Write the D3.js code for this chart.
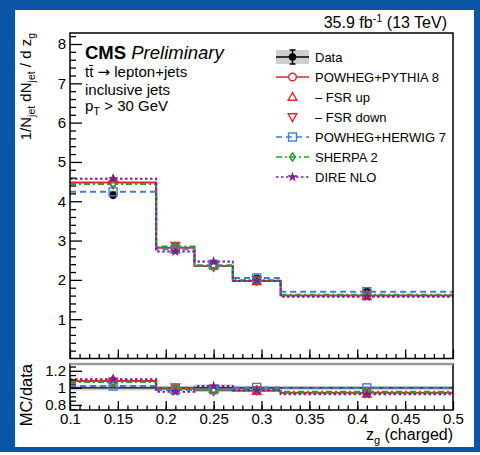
<!DOCTYPE html>
<html>
<head>
<meta charset="utf-8">
<script src="https://cdn.jsdelivr.net/npm/d3@7"></script>
<style>
  html, body { margin: 0; padding: 0; background: #fff; }
  svg text { font-family: "Liberation Sans", Arial, Helvetica, sans-serif; }
</style>
</head>
<body>
<svg id="chart" width="480" height="455"></svg>
<script>
// Bin layout of the z_g (charged) distribution
const binEdges = [0.1, 0.19, 0.23, 0.27, 0.32, 0.5];
const binCenters = [0.145, 0.21, 0.25, 0.295, 0.41];

// Unfolded data and its uncertainties
const dataVals = [4.15, 2.85, 2.42, 2.04, 1.70];
const dataStatErr = [0.06, 0.04, 0.05, 0.04, 0.03];
const dataTotalUnc = [0.13, 0.06, 0.10, 0.05, 0.04];

// Generator predictions
const pythiaVals = [4.48, 2.82, 2.35, 1.97, 1.60];
const fsrUpVals = [4.55, 2.78, 2.39, 1.96, 1.58];
const fsrDownVals = [4.43, 2.87, 2.33, 1.99, 1.63];
const herwigVals = [4.24, 2.78, 2.37, 2.05, 1.70];
const sherpaVals = [4.44, 2.85, 2.36, 1.99, 1.62];
const direVals = [4.57, 2.72, 2.47, 1.98, 1.57];

// Axis tick labels
const yMainTicks = [1, 2, 3, 4, 5, 6, 7, 8];
const yRatioTicks = [0.8, 1, 1.2];
const yRatioLabels = ["0.8", "1", "1.2"];
const xTicks = [0.1, 0.15, 0.2, 0.25, 0.3, 0.35, 0.4, 0.45, 0.5];
const xTickLabels = ["0.1", "0.15", "0.2", "0.25", "0.3", "0.35", "0.4", "0.45", "0.5"];

const RED = "#e3262b", BLUE = "#3a7fd6", GREEN = "#21a225", PURPLE = "#7d1f8e";

const series = [
  { name: "POWHEG+PYTHIA 8", vals: pythiaVals, color: RED, dash: null, marker: "circle", line: true },
  { name: "\u2013 FSR up", vals: fsrUpVals, color: RED, dash: null, marker: "triUp", line: false },
  { name: "\u2013 FSR down", vals: fsrDownVals, color: RED, dash: null, marker: "triDown", line: false },
  { name: "POWHEG+HERWIG 7", vals: herwigVals, color: BLUE, dash: "6,4", marker: "square", line: true },
  { name: "SHERPA 2", vals: sherpaVals, color: GREEN, dash: "6,3,2,3", marker: "diamond", line: true },
  { name: "DIRE NLO", vals: direVals, color: PURPLE, dash: "2.5,2.5", marker: "star", line: true }
];

const svg = d3.select("#chart");

// Outer blue frame
svg.append("rect").attr("x", 0).attr("y", 0).attr("width", 480).attr("height", 452).attr("fill", "#0a55a6");
svg.append("rect").attr("x", 15).attr("y", 10).attr("width", 459).attr("height", 437).attr("fill", "#fff");

// Scales
const x = d3.scaleLinear().domain([0.1, 0.5]).range([70, 453]);
const y = d3.scaleLinear().domain([0, 8.28]).range([358.5, 33]);
const yr = d3.scaleLinear().domain([0.74, 1.28]).range([410, 364]);

// Markers
function drawMarker(g, type, cx, cy, color) {
  const sw = 1.4;
  if (type === "circle") {
    g.append("circle").attr("cx", cx).attr("cy", cy).attr("r", 3.8)
      .attr("fill", "#fff").attr("stroke", color).attr("stroke-width", sw);
  } else if (type === "dot") {
    g.append("circle").attr("cx", cx).attr("cy", cy).attr("r", 3.8).attr("fill", color);
  } else if (type === "square") {
    g.append("rect").attr("x", cx - 4).attr("y", cy - 4).attr("width", 8).attr("height", 8)
      .attr("fill", "none").attr("stroke", color).attr("stroke-width", sw);
  } else if (type === "triUp" || type === "triDown") {
    const s = type === "triUp" ? 1 : -1;
    g.append("path")
      .attr("d", `M${cx},${cy - 4.5 * s} L${cx + 4.3},${cy + 3.2 * s} L${cx - 4.3},${cy + 3.2 * s} Z`)
      .attr("fill", "none").attr("stroke", color).attr("stroke-width", sw);
  } else if (type === "diamond") {
    g.append("path")
      .attr("d", `M${cx},${cy - 4} L${cx + 3},${cy} L${cx},${cy + 4} L${cx - 3},${cy} Z`)
      .attr("fill", "none").attr("stroke", color).attr("stroke-width", sw);
  } else if (type === "star") {
    g.append("path").attr("transform", `translate(${cx},${cy})`)
      .attr("d", d3.symbol(d3.symbolStar, 34)()).attr("fill", color);
  }
}

function stepPath(vals, ys) {
  const pts = [];
  vals.forEach((v, i) => {
    pts.push([x(binEdges[i]), ys(v)]);
    pts.push([x(binEdges[i + 1]), ys(v)]);
  });
  return d3.line()(pts);
}

// ---------- Main panel ----------
const main = svg.append("g");

// Prediction histograms
series.filter(s => s.line).forEach(s => {
  main.append("path").attr("d", stepPath(s.vals, y))
    .attr("fill", "none").attr("stroke", s.color).attr("stroke-width", 2)
    .attr("stroke-dasharray", s.dash);
});

// Data points with error bars
dataVals.forEach((v, i) => {
  const cx = x(binCenters[i]);
  main.append("line").attr("x1", cx).attr("x2", cx)
    .attr("y1", y(v - dataStatErr[i])).attr("y2", y(v + dataStatErr[i]))
    .attr("stroke", "#000").attr("stroke-width", 1.5);
  drawMarker(main, "dot", cx, y(v), "#000");
});

// Prediction markers
series.forEach(s => {
  s.vals.forEach((v, i) => drawMarker(main, s.marker, x(binCenters[i]), y(v), s.color));
});

// Main frame
main.append("rect").attr("x", 70).attr("y", 33).attr("width", 383).attr("height", 325.5)
  .attr("fill", "none").attr("stroke", "#000").attr("stroke-width", 1.5);

// Main y axis
const yAxis = d3.axisLeft(y).tickValues(yMainTicks).tickFormat(d3.format("d"))
  .tickSizeInner(-12).tickSizeOuter(0).tickPadding(4);
const yAxG = main.append("g").attr("transform", "translate(70,0)").call(yAxis);
const yMinor = d3.axisLeft(y).tickValues(d3.range(0.2, 8.25, 0.2).filter(v => Math.abs(v - Math.round(v)) > 1e-6))
  .tickFormat("").tickSizeInner(-6).tickSizeOuter(0);
const yMinG = main.append("g").attr("transform", "translate(70,0)").call(yMinor);

// Main x axis (ticks only)
const xMainAxis = d3.axisBottom(x).tickValues(xTicks).tickFormat("").tickSizeInner(-9).tickSizeOuter(0);
const xMainG = main.append("g").attr("transform", "translate(0,358.5)").call(xMainAxis);
const xMinor = d3.axisBottom(x).tickValues(d3.range(0.11, 0.5, 0.01)).tickFormat("").tickSizeInner(-4.5).tickSizeOuter(0);
const xMinG = main.append("g").attr("transform", "translate(0,358.5)").call(xMinor);

// ---------- Ratio panel ----------
const ratio = svg.append("g");

ratio.selectAll("rect.band").data(dataVals).join("rect")
  .attr("x", (d, i) => x(binEdges[i]))
  .attr("width", (d, i) => x(binEdges[i + 1]) - x(binEdges[i]))
  .attr("y", (d, i) => yr(1 + dataTotalUnc[i] / d))
  .attr("height", (d, i) => yr(1 - dataTotalUnc[i] / d) - yr(1 + dataTotalUnc[i] / d))
  .attr("fill", "#cfcfcf");

ratio.append("line").attr("x1", 70).attr("x2", 453).attr("y1", yr(1)).attr("y2", yr(1))
  .attr("stroke", "#000").attr("stroke-width", 1.2);

series.filter(s => s.line).forEach(s => {
  const r = s.vals.map((v, i) => v / dataVals[i]);
  ratio.append("path").attr("d", stepPath(r, yr))
    .attr("fill", "none").attr("stroke", s.color).attr("stroke-width", 2)
    .attr("stroke-dasharray", s.dash);
});
series.forEach(s => {
  s.vals.forEach((v, i) => drawMarker(ratio, s.marker, x(binCenters[i]), yr(v / dataVals[i]), s.color));
});

ratio.append("rect").attr("x", 70).attr("y", 364).attr("width", 383).attr("height", 46)
  .attr("fill", "none").attr("stroke", "#000").attr("stroke-width", 1.5);
ratio.append("line").attr("x1", 70).attr("x2", 453).attr("y1", 364).attr("y2", 364)
  .attr("stroke", "#9a9a9a").attr("stroke-width", 2.5);

const yrAxis = d3.axisLeft(yr).tickValues(yRatioTicks).tickFormat((d, i) => yRatioLabels[i])
  .tickSizeInner(-12).tickSizeOuter(0).tickPadding(4);
const yrG = ratio.append("g").attr("transform", "translate(70,0)").call(yrAxis);
const yrMinor = d3.axisLeft(yr).tickValues([0.75, 0.85, 0.9, 0.95, 1.05, 1.1, 1.15, 1.25])
  .tickFormat("").tickSizeInner(-6).tickSizeOuter(0);
const yrMinG = ratio.append("g").attr("transform", "translate(70,0)").call(yrMinor);

const xAxis = d3.axisBottom(x).tickValues(xTicks).tickFormat((d, i) => xTickLabels[i])
  .tickSizeInner(-9).tickSizeOuter(0).tickPadding(6);
const xG = ratio.append("g").attr("transform", "translate(0,410)").call(xAxis);
const xrMinor = d3.axisBottom(x).tickValues(d3.range(0.11, 0.5, 0.01)).tickFormat("").tickSizeInner(-4.5).tickSizeOuter(0);
const xrMinG = ratio.append("g").attr("transform", "translate(0,410)").call(xrMinor);

// Axis styling
[yAxG, yMinG, xMainG, xMinG, yrG, yrMinG, xG, xrMinG].forEach(g => {
  g.select(".domain").remove();
  g.selectAll(".tick line").attr("stroke", "#000").attr("stroke-width", 1.3);
  g.selectAll("text").attr("fill", "#000").style("font-size", "15px");
});
xG.selectAll("text").attr("dy", "0.5em");

// ---------- Text ----------
const t = svg.append("g").attr("fill", "#000");

const lumi = t.append("text").attr("x", 447).attr("y", 28).attr("text-anchor", "end").style("font-size", "16px");
lumi.append("tspan").text("35.9 fb");
lumi.append("tspan").attr("dy", -6).style("font-size", "11px").text("-1");
lumi.append("tspan").attr("dy", 6).text(" (13 TeV)");

const cms = t.append("text").attr("x", 85).attr("y", 59).style("font-size", "18.5px");
cms.append("tspan").attr("font-weight", "bold").text("CMS");
cms.append("tspan").attr("font-style", "italic").text(" Preliminary");

const ttl = t.append("text").attr("x", 85).attr("y", 77).style("font-size", "15px");
ttl.append("tspan").text("tt\u0304 ");
ttl.append("tspan").style("font-family", "'DejaVu Sans', sans-serif").style("font-size", "15px").text("\u2192");
ttl.append("tspan").text(" lepton+jets");
t.append("text").attr("x", 85).attr("y", 95).style("font-size", "15px").text("inclusive jets");
const pt = t.append("text").attr("x", 85).attr("y", 111).style("font-size", "15px");
pt.append("tspan").text("p");
pt.append("tspan").attr("dy", 4).style("font-size", "11px").text("T");
pt.append("tspan").attr("dy", -4).text(" > 30 GeV");

// Y title (main)
const yt = t.append("text").attr("transform", "translate(31,33) rotate(-90)")
  .attr("text-anchor", "end").style("font-size", "15px");
yt.append("tspan").text("1/N");
yt.append("tspan").attr("dy", 4).style("font-size", "10.5px").text("jet");
yt.append("tspan").attr("dy", -4).text(" dN");
yt.append("tspan").attr("dy", 4).style("font-size", "10.5px").text("jet");
yt.append("tspan").attr("dy", -4).text(" / d z");
yt.append("tspan").attr("dy", 4).style("font-size", "10.5px").text("g");

// Y title (ratio)
t.append("text").attr("transform", "translate(32,364) rotate(-90)")
  .attr("text-anchor", "end").style("font-size", "16.5px").text("MC/data");

// X title
const xt = t.append("text").attr("x", 453).attr("y", 440).attr("text-anchor", "end").style("font-size", "16px");
xt.append("tspan").text("z");
xt.append("tspan").attr("dy", 4).style("font-size", "11px").text("g");
xt.append("tspan").attr("dy", -4).text(" (charged)");

// ---------- Legend ----------
const leg = svg.append("g");
const legX0 = 276, legX1 = 309, legCx = 292.5, legText = 315;
const legY = [57, 77, 97, 117, 137, 157, 177];

// Data entry
leg.append("rect").attr("x", legX0).attr("y", legY[0] - 7).attr("width", legX1 - legX0).attr("height", 14).attr("fill", "#cfcfcf");
leg.append("line").attr("x1", legX0).attr("x2", legX1).attr("y1", legY[0]).attr("y2", legY[0]).attr("stroke", "#000").attr("stroke-width", 1.5);
leg.append("line").attr("x1", legCx).attr("x2", legCx).attr("y1", legY[0] - 7).attr("y2", legY[0] + 7).attr("stroke", "#000").attr("stroke-width", 1.5);
[-7, 7].forEach(d => leg.append("line").attr("x1", legCx - 3).attr("x2", legCx + 3)
  .attr("y1", legY[0] + d).attr("y2", legY[0] + d).attr("stroke", "#000").attr("stroke-width", 1.5));
drawMarker(leg, "dot", legCx, legY[0], "#000");
leg.append("text").attr("x", legText).attr("y", legY[0]).attr("dy", "0.36em").style("font-size", "13px").text("Data");

series.forEach((s, k) => {
  const yy = legY[k + 1];
  if (s.line) {
    leg.append("line").attr("x1", legX0).attr("x2", legX1).attr("y1", yy).attr("y2", yy)
      .attr("stroke", s.color).attr("stroke-width", 1.5).attr("stroke-dasharray", s.dash);
  }
  drawMarker(leg, s.marker, legCx, yy, s.color);
  leg.append("text").attr("x", legText).attr("y", yy).attr("dy", "0.36em").style("font-size", "13px").text(s.name);
});
</script>
</body>
</html>
